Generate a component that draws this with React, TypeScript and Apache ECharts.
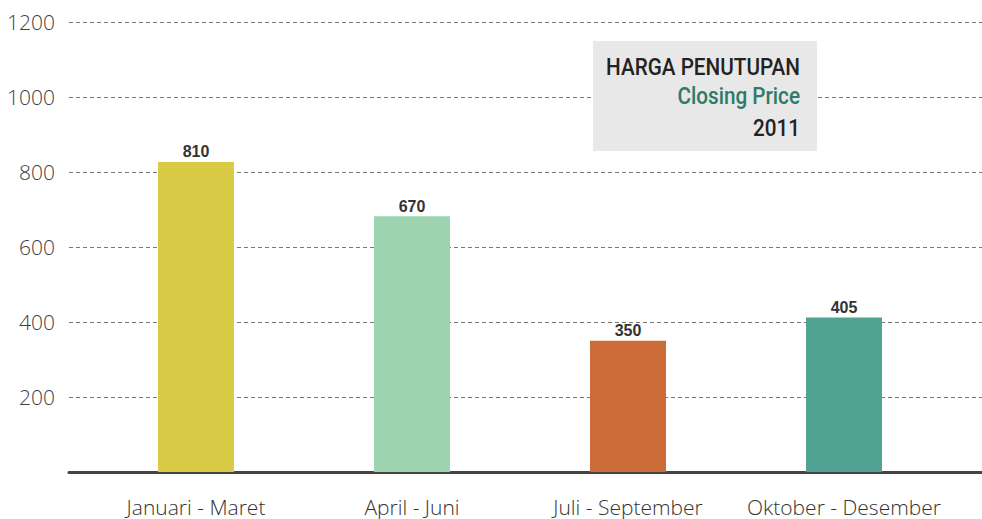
import React, { useEffect, useRef } from "react";
import * as echarts from "echarts";

const categories = ["Januari - Maret", "April - Juni", "Juli - September", "Oktober - Desember"];
const barValues = [827, 682, 350, 412];
const labelValues = ["810", "670", "350", "405"];
const barColors = ["#dacb46", "#9dd4af", "#cc6c38", "#50a293"];
const yTicks = { min: 0, max: 1200, interval: 200 };
const titleLines = ["HARGA PENUTUPAN", "Closing Price", "2011"];

export default function App() {
  const ref = useRef<HTMLDivElement>(null);
  useEffect(() => {
    if (!ref.current) return;
    const chart = echarts.init(ref.current, null, { renderer: "svg" });
    const titleFont = "Roboto, 'Liberation Sans', sans-serif";
    const titleText = (i: number, y: number, color: string) => ({
      type: "text",
      x: 800,
      y,
      scaleX: 0.9,
      z: 11,
      style: {
        text: titleLines[i],
        fill: color,
        font: `500 23px ${titleFont}`,
        align: "right",
        verticalAlign: "middle",
      },
    });
    chart.setOption({
      animation: false,
      backgroundColor: "#ffffff",
      grid: [
        { left: 69, right: 0, top: 22, bottom: 47 },
        { left: 88, right: 30, top: 22, bottom: 47 },
      ],
      xAxis: [
        {
          type: "category",
          gridIndex: 0,
          data: categories,
          axisLine: { show: true, lineStyle: { color: "#444444", width: 3 } },
          axisTick: { show: false },
          axisLabel: { show: false },
          splitLine: { show: false },
        },
        {
          type: "category",
          gridIndex: 1,
          data: categories,
          axisLine: { show: false },
          axisTick: { show: false },
          axisLabel: {
            show: true,
            interval: 0,
            color: "#333333",
            fontSize: 21,
            fontFamily: "'Open Sans', sans-serif",
            fontWeight: 300,
            margin: 24,
          },
        },
      ],
      yAxis: [
        {
          type: "value",
          gridIndex: 0,
          min: yTicks.min,
          max: yTicks.max,
          interval: yTicks.interval,
          axisLine: { show: false },
          axisTick: { show: false },
          axisLabel: {
            color: "#3f3f3f",
            fontSize: 21,
            fontFamily: "'Open Sans', sans-serif",
            fontWeight: 300,
            margin: 14,
            formatter: (v: number) => (v === 0 ? "" : String(v)),
          },
          splitLine: {
            show: true,
            lineStyle: { color: "#777777", type: [4, 3], width: 1 },
          },
        },
        {
          type: "value",
          gridIndex: 1,
          min: yTicks.min,
          max: yTicks.max,
          interval: yTicks.interval,
          show: false,
          splitLine: { show: false },
        },
      ],
      series: [
        {
          type: "bar",
          xAxisIndex: 1,
          yAxisIndex: 1,
          barWidth: 76,
          data: barValues.map((v, i) => ({ value: v, itemStyle: { color: barColors[i] } })),
          label: {
            show: true,
            position: "top",
            distance: 2,
            color: "#333333",
            fontSize: 16,
            fontWeight: "bold",
            fontFamily: "'Liberation Sans', Arial, sans-serif",
            formatter: (p: any) => labelValues[p.dataIndex],
          },
          z: 3,
        },
      ],
      graphic: [
        {
          type: "rect",
          shape: { x: 593, y: 41, width: 224, height: 110 },
          style: { fill: "#e7e8e7" },
          z: 10,
        },
        titleText(0, 67, "#222222"),
        titleText(1, 96, "#2f7a68"),
        titleText(2, 128, "#222222"),
      ],
    });
    return () => chart.dispose();
  }, []);
  return (
    <div
      ref={ref}
      style={{ position: "absolute", left: 0, top: 0, width: 982, height: 519 }}
    />
  );
}
